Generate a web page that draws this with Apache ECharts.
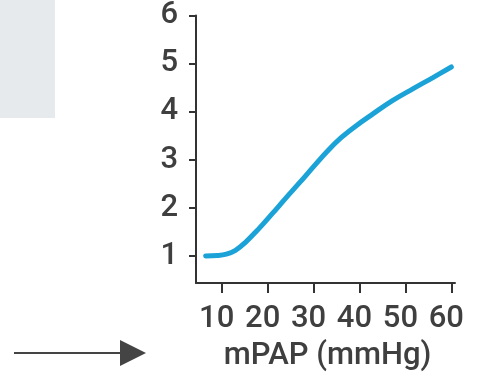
<!DOCTYPE html>
<html>
<head>
<meta charset="utf-8">
<script src="https://cdn.jsdelivr.net/npm/echarts@6/dist/echarts.min.js"></script>
<style>
  html, body { margin: 0; padding: 0; background: #fff; }
  #main { width: 477px; height: 386px; }
</style>
</head>
<body>
<div id="main"></div>
<script>
"use strict";
// curve (mPAP in mmHg vs ratio)
let mpapValues = [6.5, 9, 11, 13, 15, 18, 21, 24, 27, 30, 33, 36, 39, 43, 47, 51.7, 56, 60];
let ratioValues = [1.0, 1.01, 1.04, 1.12, 1.27, 1.56, 1.88, 2.21, 2.53, 2.86, 3.18, 3.46, 3.69, 3.96, 4.22, 4.48, 4.71, 4.93];
let xTicks = [10, 20, 30, 40, 50, 60];
let yTicks = [1, 2, 3, 4, 5, 6];

let myChart = echarts.init(document.getElementById('main'));

let axisColor = '#333';
let labelFont = {
    color: '#3f3f3f',
    fontSize: 31,
    fontWeight: 500,
    fontFamily: 'Roboto'
};

let points = [];
for (let i = 0; i < mpapValues.length; i++) {
    points.push([mpapValues[i], ratioValues[i]]);
}

let option = {
    animation: false,
    grid: {
        left: 196,
        top: 14,
        width: 259,
        height: 269
    },
    xAxis: {
        type: 'value',
        min: 4.4,
        max: 60.8,
        name: 'mPAP (mmHg)',
        nameLocation: 'middle',
        nameGap: 58,
        nameTextStyle: Object.assign({ padding: [0, 0, 0, 4] }, labelFont),
        axisLine: { lineStyle: { color: axisColor, width: 2 } },
        axisTick: { customValues: xTicks, length: 10, lineStyle: { color: axisColor, width: 2 } },
        axisLabel: Object.assign({ customValues: xTicks, margin: 21, padding: [0, 10, 0, 0] }, labelFont),
        splitLine: { show: false }
    },
    yAxis: {
        type: 'value',
        min: 0.44,
        max: 6,
        axisLine: { show: true, lineStyle: { color: axisColor, width: 2 } },
        axisTick: { show: true, customValues: yTicks, length: 7, lineStyle: { color: axisColor, width: 2 } },
        axisLabel: Object.assign({ customValues: yTicks, margin: 18 }, labelFont),
        splitLine: { show: false }
    },
    graphic: [
        {
            type: 'rect',
            shape: { x: 0, y: 0, width: 55, height: 118 },
            style: { fill: '#e7eaed' }
        },
        {
            type: 'line',
            shape: { x1: 14, y1: 353, x2: 124, y2: 353 },
            style: { stroke: '#444', lineWidth: 2 }
        },
        {
            type: 'polygon',
            shape: { points: [[120, 340], [146, 353], [120, 366]] },
            style: { fill: '#444' }
        }
    ],
    series: [{
        type: 'line',
        data: points,
        smooth: 0.4,
        showSymbol: false,
        lineStyle: { color: '#1ba3d8', width: 5, cap: 'round' }
    }]
};
myChart.setOption(option);
</script>
</body>
</html>
